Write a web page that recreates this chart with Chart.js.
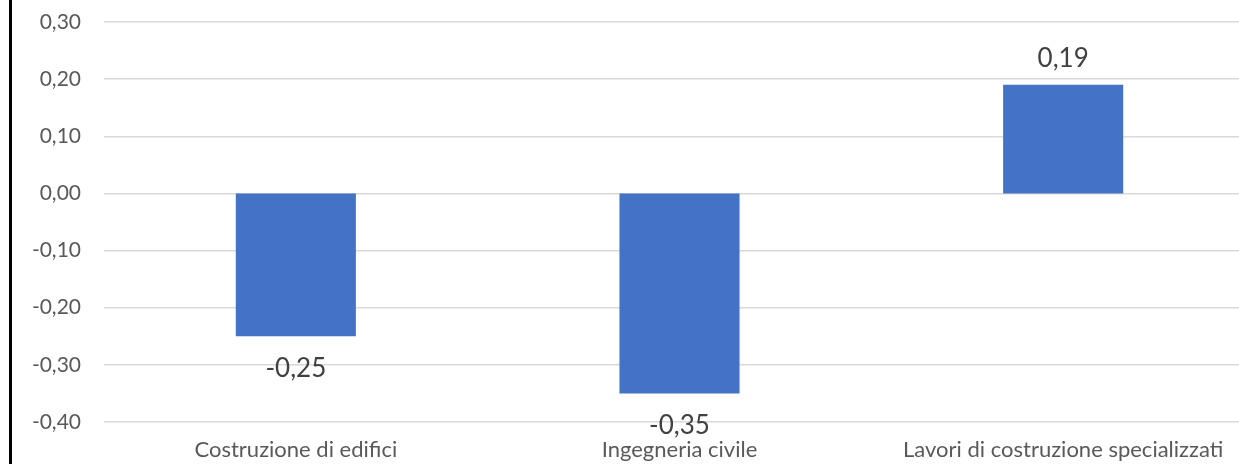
<!DOCTYPE html>
<html>
<head>
<meta charset="utf-8">
<script src="https://cdn.jsdelivr.net/npm/chart.js@4/dist/chart.umd.min.js"></script>
<style>
  html, body { margin: 0; padding: 0; background: #fff; overflow: hidden; }
  #wrap { position: relative; width: 1255px; height: 464px; }
  #frame { position: absolute; left: 9px; top: 0; width: 3px; height: 464px; background: #000; }
  canvas { position: absolute; left: 0; top: 0; }
</style>
</head>
<body>
<div id="wrap">
  <canvas id="c" width="1255" height="464"></canvas>
  <div id="frame"></div>
</div>
<script>
// Comparti delle costruzioni e relativi valori
const categories = ['Costruzione di edifici', 'Ingegneria civile', 'Lavori di costruzione specializzati'];
const values = [-0.25, -0.35, 0.19];
const axisMin = -0.4;
const axisMax = 0.3;
const axisStep = 0.1;

const fmt = v => (Math.abs(v) < 1e-9 ? 0 : v).toFixed(2).replace('.', ',');
const FONT = 'Lato, "Open Sans", sans-serif';

// Etichette con il valore sopra/sotto ogni barra
const valueLabels = {
  id: 'valueLabels',
  afterDatasetsDraw(chart) {
    const ctx = chart.ctx;
    const meta = chart.getDatasetMeta(0);
    ctx.save();
    ctx.font = '26px ' + FONT;
    ctx.fillStyle = '#404040';
    ctx.textAlign = 'center';
    ctx.textBaseline = 'alphabetic';
    meta.data.forEach((bar, i) => {
      const v = chart.data.datasets[0].data[i];
      const y = v >= 0 ? bar.y - 18 : bar.y + 41;
      ctx.fillText(fmt(v), bar.x, y);
    });
    ctx.restore();
  }
};

new Chart(document.getElementById('c'), {
  type: 'bar',
  data: {
    labels: categories,
    datasets: [{
      data: values,
      backgroundColor: '#4472C4',
      borderWidth: 0,
      barPercentage: 0.313,
      categoryPercentage: 1
    }]
  },
  options: {
    responsive: false,
    animation: false,
    layout: { padding: { top: 22, left: 0, right: 0, bottom: 0 } },
    plugins: { legend: { display: false }, tooltip: { enabled: false } },
    scales: {
      x: {
        offset: true,
        grid: { display: false, drawTicks: false },
        border: { display: false },
        ticks: { color: '#595959', font: { family: FONT, size: 22 }, padding: 15, maxRotation: 0, autoSkip: false },
        afterFit(scale) { scale.height = 42; }
      },
      y: {
        min: axisMin,
        max: axisMax,
        grid: { color: '#d9d9d9', lineWidth: 1.5, drawTicks: true, tickLength: 23, tickColor: 'rgba(0,0,0,0)' },
        border: { display: false },
        ticks: {
          stepSize: axisStep,
          color: '#595959',
          font: { family: FONT, size: 21 },
          padding: 0,
          callback: v => fmt(v)
        },
        afterFit(scale) { scale.width = 104; }
      }
    }
  },
  plugins: [valueLabels]
});
</script>
</body>
</html>
